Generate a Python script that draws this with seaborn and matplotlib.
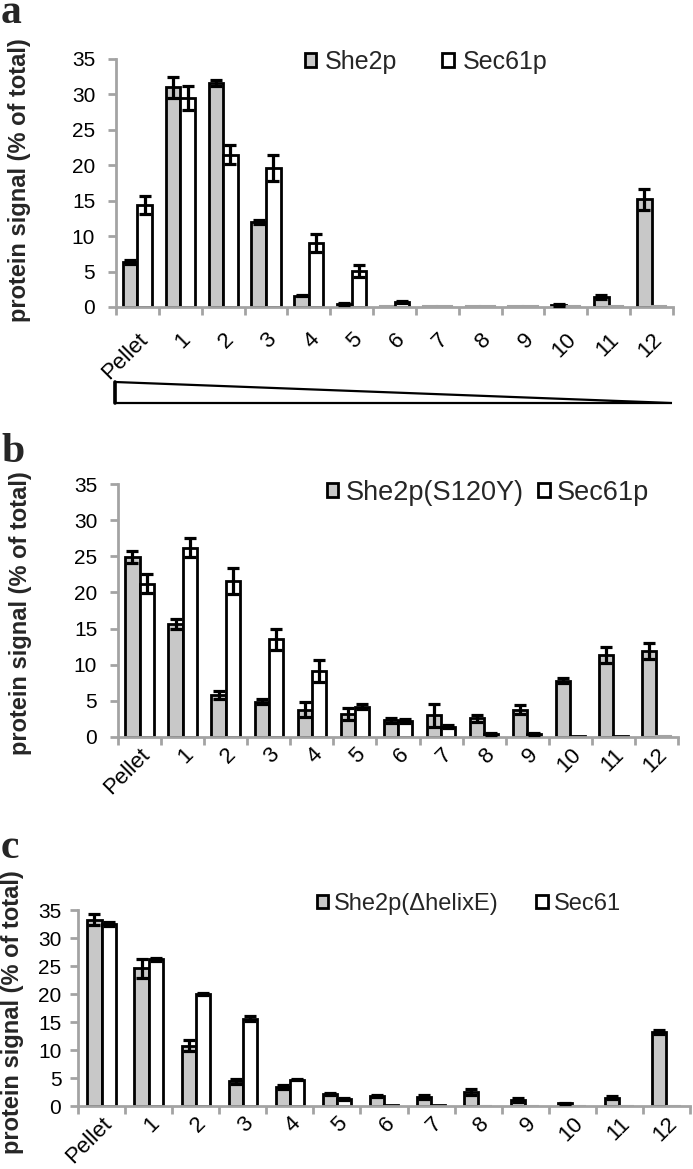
import matplotlib
matplotlib.use("Agg")
import matplotlib.pyplot as plt
from matplotlib.patches import Patch, Polygon
import numpy as np
import pandas as pd
import seaborn as sns

# fractions of the gradient, pellet first
fractions = ["Pellet", "1", "2", "3", "4", "5", "6", "7", "8", "9", "10", "11", "12"]

# panel a: She2p vs Sec61p
a_names = ["She2p", "Sec61p"]
a_she2p = [6.4, 31.0, 31.6, 12.0, 1.6, 0.4, 0.1, 0.1, 0.1, 0.1, 0.3, 1.4, 15.2]
a_she2p_err = [0.3, 1.5, 0.4, 0.3, 0.1, 0.1, 0.0, 0.0, 0.0, 0.0, 0.1, 0.3, 1.5]
a_sec61 = [14.4, 29.5, 21.5, 19.6, 9.0, 5.1, 0.7, 0.1, 0.1, 0.1, 0.1, 0.1, 0.1]
a_sec61_err = [1.3, 1.7, 1.3, 1.8, 1.3, 0.8, 0.2, 0.0, 0.0, 0.0, 0.0, 0.0, 0.0]

# panel b: She2p(S120Y) vs Sec61p
b_names = ["She2p(S120Y)", "Sec61p"]
b_she2p = [24.9, 15.6, 5.8, 4.9, 3.8, 3.2, 2.3, 3.0, 2.6, 3.8, 7.8, 11.4, 11.9]
b_she2p_err = [0.8, 0.7, 0.5, 0.4, 1.0, 0.8, 0.3, 1.6, 0.5, 0.6, 0.3, 1.1, 1.1]
b_sec61 = [21.2, 26.2, 21.6, 13.5, 9.1, 4.2, 2.2, 1.4, 0.4, 0.4, 0.2, 0.2, 0.1]
b_sec61_err = [1.3, 1.3, 1.8, 1.4, 1.5, 0.3, 0.3, 0.2, 0.1, 0.1, 0.0, 0.0, 0.0]

# panel c: She2p(ΔhelixE) vs Sec61
c_names = ["She2p(\u0394helixE)", "Sec61"]
c_she2p = [33.3, 24.6, 10.8, 4.4, 3.4, 2.1, 1.8, 1.6, 2.5, 1.1, 0.5, 1.5, 13.2]
c_she2p_err = [1.0, 1.7, 1.0, 0.5, 0.4, 0.2, 0.2, 0.3, 0.6, 0.4, 0.1, 0.3, 0.4]
c_sec61 = [32.5, 26.2, 20.0, 15.6, 4.7, 1.3, 0.2, 0.2, 0.0, 0.0, 0.0, 0.0, 0.0]
c_sec61_err = [0.3, 0.3, 0.2, 0.5, 0.1, 0.2, 0.0, 0.0, 0.0, 0.0, 0.0, 0.0, 0.0]

W, H = 693, 1169
GREY_FILL = "#c8c8c8"
AXIS_GREY = "#a3a3a3"

sns.set_style("ticks")
plt.rcParams["font.family"] = ["Liberation Sans", "DejaVu Sans"]

fig = plt.figure(figsize=(W / 100, H / 100), dpi=100)


def px_rect(left, right, top, bottom):
    # axes rectangle from pixel edges
    return [left / W, 1 - bottom / H, (right - left) / W, (bottom - top) / H]


def draw_panel(rect, names, she2p, she2p_err, sec61, sec61_err, width,
               leg_xy, leg_fs, leg_hl, leg_tp, leg_cs, xpad, ypad, ylab_xy):
    ax = fig.add_axes(rect)
    df = pd.DataFrame({
        "fraction": fractions * 2,
        "protein": [names[0]] * len(fractions) + [names[1]] * len(fractions),
        "value": she2p + sec61,
    })
    sns.barplot(data=df, x="fraction", y="value", hue="protein",
                order=fractions, hue_order=names,
                palette={names[0]: GREY_FILL, names[1]: "white"},
                edgecolor="black", linewidth=2, width=width,
                errorbar=None, legend=False, ax=ax)

    # near-empty fractions only show up as a faint line
    for bar in ax.patches:
        if bar.get_height() < 0.15:
            bar.set_edgecolor(AXIS_GREY)
            bar.set_linewidth(1.5)

    # error bars on top of each bar
    for cont, errs in zip(ax.containers, [she2p_err, sec61_err]):
        xs, ys, es = [], [], []
        for bar, e in zip(cont, errs):
            if e > 0:
                xs.append(bar.get_x() + bar.get_width() / 2)
                ys.append(bar.get_height())
                es.append(e)
        ax.errorbar(xs, ys, yerr=es, fmt="none", ecolor="black",
                    elinewidth=2.3, capsize=4, capthick=2.3,
                    clip_on=False, zorder=5)

    ax.set_xlim(-0.5, len(fractions) - 0.5)
    ax.set_ylim(0, 35)
    ax.set_yticks(range(0, 36, 5))
    ax.set_xticks(range(len(fractions)))
    ax.set_xticklabels(fractions, rotation=45, ha="right", va="top",
                       rotation_mode="anchor")
    ax.set_xticks(np.arange(-0.5, len(fractions), 1), minor=True)
    ax.tick_params(axis="x", which="major", length=0, pad=xpad,
                   labelsize=16, labelcolor="black")
    ax.tick_params(axis="x", which="minor", length=6, width=2,
                   color=AXIS_GREY, direction="out")
    ax.tick_params(axis="y", length=6, width=2, color=AXIS_GREY,
                   direction="out", pad=ypad, labelsize=15,
                   labelcolor="black")
    sns.despine(ax=ax)
    for side in ["left", "bottom"]:
        ax.spines[side].set_color(AXIS_GREY)
        ax.spines[side].set_linewidth(2)

    ax.set_xlabel("")
    ax.set_ylabel("protein signal (% of total)", fontsize=17,
                  fontweight="bold")
    ax.yaxis.set_label_coords(*ylab_xy)

    handles = [Patch(facecolor=GREY_FILL, edgecolor="black", linewidth=2),
               Patch(facecolor="white", edgecolor="black", linewidth=2)]
    ax.legend(handles, names, loc="center left", bbox_to_anchor=leg_xy,
              ncol=2, frameon=False, fontsize=leg_fs,
              handlelength=leg_hl, handleheight=leg_hl,
              handletextpad=leg_tp, columnspacing=leg_cs,
              borderpad=0, borderaxespad=0)
    return ax


draw_panel(px_rect(116, 673, 59, 307), a_names, a_she2p, a_she2p_err,
           a_sec61, a_sec61_err, width=0.68,
           leg_xy=(0.339, 0.988), leg_fs=18, leg_hl=0.45, leg_tp=0.36,
           leg_cs=1.8, xpad=16, ypad=9, ylab_xy=(-0.152, 0.51))

draw_panel(px_rect(118, 678, 484, 737), b_names, b_she2p, b_she2p_err,
           b_sec61, b_sec61_err, width=0.66,
           leg_xy=(0.373, 0.964), leg_fs=19.5, leg_hl=0.42, leg_tp=0.26,
           leg_cs=0.55, xpad=5, ypad=9, ylab_xy=(-0.154, 0.49))

draw_panel(px_rect(78, 690, 910, 1106), c_names, c_she2p, c_she2p_err,
           c_sec61, c_sec61_err, width=0.6,
           leg_xy=(0.39, 1.03), leg_fs=17, leg_hl=0.5, leg_tp=0.25,
           leg_cs=1.57, xpad=5, ypad=6, ylab_xy=(-0.088, 0.48))

# gradient wedge under panel a
wedge = Polygon([(115 / W, 1 - 382 / H), (115 / W, 1 - 403 / H),
                 (672 / W, 1 - 403 / H)], closed=True, fill=False,
                edgecolor="black", linewidth=1.6, transform=fig.transFigure)
fig.add_artist(wedge)
fig.add_artist(plt.Line2D([115 / W, 115 / W], [1 - 382 / H, 1 - 403 / H],
                          color="black", linewidth=2.6,
                          transform=fig.transFigure))

# panel letters
for letter, base_y in [("a", 23), ("b", 462), ("c", 858)]:
    fig.text(1 / W, 1 - base_y / H, letter, family="Liberation Serif",
             fontweight="bold", fontsize=30, va="baseline", ha="left")

fig.savefig("out.png", dpi=100)
